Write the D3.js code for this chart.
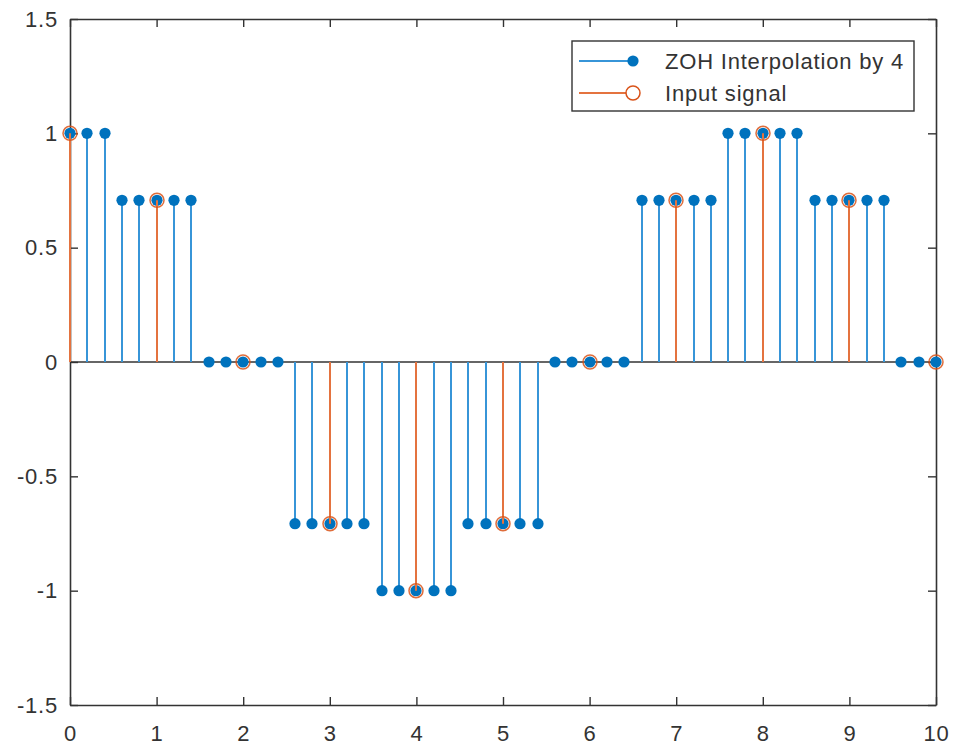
<!DOCTYPE html>
<html><head><meta charset="utf-8">
<script src="https://cdn.jsdelivr.net/npm/d3@7"></script>
<style>html,body{margin:0;padding:0;background:#fff;}svg{display:block;}</style>
</head><body>
<svg id="c" width="955" height="746"></svg>
<script>
const inputX = [0,1,2,3,4,5,6,7,8,9,10];
const inputY = [1,0.7071,0,-0.7071,-1,-0.7071,0,0.7071,1,0.7071,0];
const zohX = [0,0.2,0.4,0.6,0.8,1,1.2,1.4,1.6,1.8,2,2.2,2.4,2.6,2.8,3,3.2,3.4,3.6,3.8,4,4.2,4.4,4.6,4.8,5,5.2,5.4,5.6,5.8,6,6.2,6.4,6.6,6.8,7,7.2,7.4,7.6,7.8,8,8.2,8.4,8.6,8.8,9,9.2,9.4,9.6,9.8,10];
const zohY = [1,1,1,
  0.7071,0.7071,0.7071,0.7071,0.7071,
  0,0,0,0,0,
  -0.7071,-0.7071,-0.7071,-0.7071,-0.7071,
  -1,-1,-1,-1,-1,
  -0.7071,-0.7071,-0.7071,-0.7071,-0.7071,
  0,0,0,0,0,
  0.7071,0.7071,0.7071,0.7071,0.7071,
  1,1,1,1,1,
  0.7071,0.7071,0.7071,0.7071,0.7071,
  0,0,0];
const xTicks = [0,1,2,3,4,5,6,7,8,9,10];
const yTicks = [-1.5,-1,-0.5,0,0.5,1,1.5];
const yTickLabels = ["-1.5","-1","-0.5","0","0.5","1","1.5"];
const legendLabels = ["ZOH Interpolation by 4","Input signal"];

const L=70, R=936, T=19, B=705;
const svg = d3.select("#c");
const x = d3.scaleLinear().domain([0,10]).range([L,R]);
const y = d3.scaleLinear().domain([-1.5,1.5]).range([B,T]);
const px = v => Math.round(x(v));
const axisColor = "#333";
const blue = "#0072BD", blueLine = "#3795d8";
const orange = "#D95319", orangeLine = "#e4733f";
const font = "'Liberation Sans', Arial, Helvetica, sans-serif";
const fs = 22, ls = "0.8px";
const tl = 8;

// axes
const g = svg.append("g");
const axB = d3.axisBottom(x).tickValues(xTicks).tickSizeInner(-tl).tickSizeOuter(0).tickPadding(20).tickFormat(d3.format("d"));
const axT = d3.axisTop(x).tickValues(xTicks).tickSizeInner(-tl).tickSizeOuter(0).tickFormat("");
const axLf = d3.axisLeft(y).tickValues(yTicks).tickSizeInner(-tl).tickSizeOuter(0).tickPadding(12).tickFormat((d,i)=>yTickLabels[i]);
const axRt = d3.axisRight(y).tickValues(yTicks).tickSizeInner(-tl).tickSizeOuter(0).tickFormat("");
function style(sel){
  sel.selectAll("path").attr("stroke",axisColor).attr("stroke-width",1.6);
  sel.selectAll("line").attr("stroke",axisColor).attr("stroke-width",1.4);
  sel.selectAll("text").attr("fill","#333").style("font-family",font).style("font-size",fs+"px").style("letter-spacing",ls);
}
g.append("g").attr("transform",`translate(0,${B})`).call(axB).call(style);
g.append("g").attr("transform",`translate(0,${T})`).call(axT).call(style);
g.append("g").attr("transform",`translate(${L},0)`).call(axLf).call(style);
g.append("g").attr("transform",`translate(${R},0)`).call(axRt).call(style);

// baseline
svg.append("line").attr("x1",x(0)).attr("x2",x(10)).attr("y1",y(0)).attr("y2",y(0))
  .attr("stroke","#333").attr("stroke-width",1.5);

// ZOH stems
const zoh = zohX.map((d,i)=>({x:d,y:zohY[i]}));
const inp = inputX.map((d,i)=>({x:d,y:inputY[i]}));
svg.append("g").selectAll("line").data(zoh).join("line")
  .attr("x1",d=>px(d.x)).attr("x2",d=>px(d.x)).attr("y1",y(0)).attr("y2",d=>y(d.y))
  .attr("stroke",blueLine).attr("stroke-width",2);
svg.append("g").selectAll("circle").data(zoh).join("circle")
  .attr("cx",d=>px(d.x)).attr("cy",d=>y(d.y)).attr("r",5.6).attr("fill",blue);
// input stems
svg.append("g").selectAll("line").data(inp).join("line")
  .attr("x1",d=>px(d.x)).attr("x2",d=>px(d.x)).attr("y1",y(0)).attr("y2",d=>y(d.y))
  .attr("stroke",orangeLine).attr("stroke-width",2);
svg.append("g").selectAll("circle").data(inp).join("circle")
  .attr("cx",d=>px(d.x)).attr("cy",d=>y(d.y)).attr("r",7).attr("fill","none")
  .attr("stroke",orange).attr("stroke-width",1.5).attr("stroke-opacity",0.85);

// legend
const lg = svg.append("g");
lg.append("rect").attr("x",572).attr("y",41).attr("width",342).attr("height",70)
  .attr("fill","#fff").attr("stroke",axisColor).attr("stroke-width",1.4);
const rows=[61,93];
lg.append("line").attr("x1",579).attr("x2",633).attr("y1",rows[0]).attr("y2",rows[0]).attr("stroke",blueLine).attr("stroke-width",1.8);
lg.append("circle").attr("cx",633).attr("cy",rows[0]).attr("r",5.6).attr("fill",blue);
lg.append("line").attr("x1",579).attr("x2",633).attr("y1",rows[1]).attr("y2",rows[1]).attr("stroke",orangeLine).attr("stroke-width",1.8);
lg.append("circle").attr("cx",633).attr("cy",rows[1]).attr("r",7).attr("fill","#fff").attr("stroke",orange).attr("stroke-width",1.5);
legendLabels.forEach((t,i)=>{
  lg.append("text").attr("x",665).attr("y",rows[i]).attr("dy","0.36em")
    .attr("fill","#333").style("font-family",font).style("font-size",fs+"px").style("letter-spacing",ls).text(t);
});
</script>
</body></html>
